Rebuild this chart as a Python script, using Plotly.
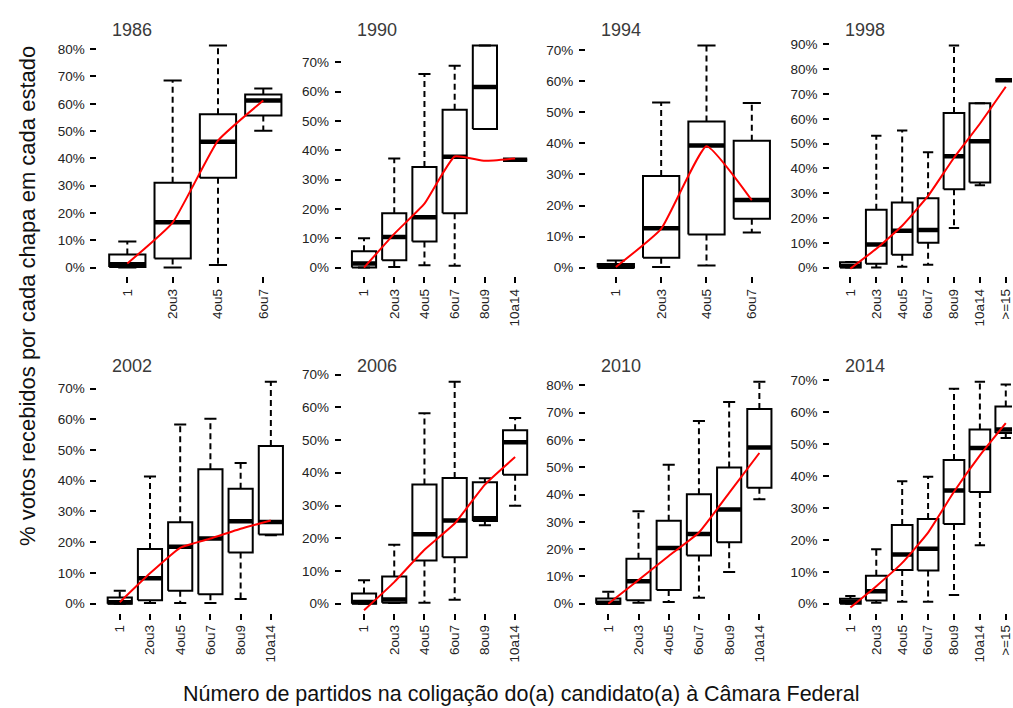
import plotly.graph_objects as go

FIG_W, FIG_H = 1013, 708

YEARS = ["1986", "1990", "1994", "1998", "2002", "2006", "2010", "2014"]
CATS_4 = ["1", "2ou3", "4ou5", "6ou7"]
CATS_6 = ["1", "2ou3", "4ou5", "6ou7", "8ou9", "10a14"]
CATS_7 = ["1", "2ou3", "4ou5", "6ou7", "8ou9", "10a14", ">=15"]

# Box statistics per year (% of votes): lower whisker, Q1, median, Q3, upper whisker,
# plus the smoothed trend (red line) evaluated at each category.
low_1986 = [0.0, 0.0, 1.0, 50.1]
q1_1986 = [0.2, 3.3, 32.9, 55.7]
med_1986 = [1.2, 16.6, 46.1, 61.2]
q3_1986 = [4.8, 31.1, 56.2, 63.4]
high_1986 = [9.6, 68.5, 81.3, 65.6]
trend_1986 = [1.5, 16.5, 46.5, 61.2]

low_1990 = [0.0, 0.2, 0.8, 0.6, 47.3, 36.8]
q1_1990 = [0.0, 2.5, 8.9, 18.5, 47.3, 36.8]
med_1990 = [1.4, 10.4, 17.2, 37.8, 61.6, 36.8]
q3_1990 = [5.6, 18.5, 34.3, 53.8, 75.7, 36.8]
high_1990 = [10.0, 37.2, 66.0, 68.8, 75.7, 36.8]
trend_1990 = [0.0, 11.5, 21.8, 37.9, 36.4, 37.2]

low_1994 = [0.0, 0.2, 0.7, 11.3]
q1_1994 = [0.0, 3.2, 10.7, 15.7]
med_1994 = [0.3, 12.7, 39.3, 21.8]
q3_1994 = [1.2, 29.5, 47.1, 40.9]
high_1994 = [2.3, 53.2, 71.5, 53.0]
trend_1994 = [0.2, 12.5, 39.1, 21.7]

low_1998 = [0.0, 0.0, 0.3, 1.2, 16.0, 33.2, 75.5]
q1_1998 = [0.0, 1.6, 5.2, 10.0, 31.6, 34.3, 75.5]
med_1998 = [0.6, 9.3, 14.9, 15.2, 44.9, 50.9, 75.5]
q3_1998 = [2.2, 23.3, 26.3, 28.0, 62.3, 66.3, 75.5]
high_1998 = [2.3, 53.2, 55.3, 46.5, 89.5, 66.3, 75.5]
trend_1998 = [-0.4, 7.6, 16.9, 28.9, 44.3, 58.0, 72.9]

low_2002 = [0.0, 0.2, 0.2, 0.2, 1.5, 22.3]
q1_2002 = [0.0, 1.1, 4.2, 3.1, 16.7, 22.5]
med_2002 = [0.5, 8.3, 18.5, 21.2, 26.8, 26.6]
q3_2002 = [2.0, 17.8, 26.5, 43.7, 37.4, 51.3]
high_2002 = [4.2, 41.4, 58.3, 60.2, 45.8, 72.2]
trend_2002 = [0.5, 9.9, 18.2, 21.2, 24.4, 27.1]

low_2006 = [0.0, 0.2, 0.3, 1.2, 24.0, 29.9]
q1_2006 = [0.0, 0.3, 13.2, 14.2, 25.3, 39.4]
med_2006 = [0.5, 1.3, 21.2, 25.4, 26.1, 49.3]
q3_2006 = [3.1, 8.3, 36.4, 38.4, 37.1, 53.0]
high_2006 = [7.2, 18.0, 58.2, 67.8, 38.3, 56.7]
trend_2006 = [-2.0, 6.6, 16.5, 24.5, 36.4, 44.8]

low_2010 = [0.0, 0.4, 0.6, 2.2, 11.6, 38.3]
q1_2010 = [0.0, 1.3, 5.0, 17.7, 22.5, 42.5]
med_2010 = [0.4, 8.2, 20.4, 25.5, 34.5, 57.2]
q3_2010 = [1.9, 16.5, 30.4, 40.1, 49.9, 71.3]
high_2010 = [4.4, 33.9, 50.9, 66.9, 73.9, 81.3]
trend_2010 = [0.0, 8.7, 17.5, 26.1, 40.6, 55.2]

low_2014 = [0.0, 0.3, 0.6, 0.6, 2.7, 18.3, 52.0]
q1_2014 = [0.0, 1.0, 10.6, 10.4, 25.0, 35.0, 53.5]
med_2014 = [0.6, 3.9, 15.4, 17.2, 35.5, 48.8, 54.6]
q3_2014 = [1.6, 8.8, 24.7, 26.6, 45.1, 54.6, 61.8]
high_2014 = [2.4, 17.1, 38.4, 39.8, 67.4, 69.6, 68.7]
trend_2014 = [-1.2, 5.5, 12.8, 22.3, 35.1, 46.5, 56.6]

PANELS = [
    ("1986", CATS_4, low_1986, q1_1986, med_1986, q3_1986, high_1986, trend_1986),
    ("1990", CATS_6, low_1990, q1_1990, med_1990, q3_1990, high_1990, trend_1990),
    ("1994", CATS_4, low_1994, q1_1994, med_1994, q3_1994, high_1994, trend_1994),
    ("1998", CATS_7, low_1998, q1_1998, med_1998, q3_1998, high_1998, trend_1998),
    ("2002", CATS_6, low_2002, q1_2002, med_2002, q3_2002, high_2002, trend_2002),
    ("2006", CATS_6, low_2006, q1_2006, med_2006, q3_2006, high_2006, trend_2006),
    ("2010", CATS_6, low_2010, q1_2010, med_2010, q3_2010, high_2010, trend_2010),
    ("2014", CATS_7, low_2014, q1_2014, med_2014, q3_2014, high_2014, trend_2014),
]

# Panel placement in pixels
COL_LEFT = [97.5, 342.0, 586.5, 831.0]
PANEL_W = 196.0
ROW_TOP = [31.0, 370.0]
PANEL_H = 241.8

FONT = "Liberation Sans, Arial, Helvetica, sans-serif"
BOX_HALF = 0.4
CAP_HALF = 0.2

fig = go.Figure()
layout = dict(
    width=FIG_W, height=FIG_H,
    margin=dict(l=0, r=0, t=0, b=0),
    paper_bgcolor="white", plot_bgcolor="white",
    showlegend=False,
    font=dict(family=FONT, color="#222222", size=13),
    annotations=[],
)

for i, (year, cats, lo, q1, med, q3, hi, trend) in enumerate(PANELS):
    row, col = divmod(i, 4)
    n = len(cats)
    sfx = "" if i == 0 else str(i + 1)
    xa, ya = "x" + sfx, "y" + sfx
    pos = list(range(1, n + 1))

    # R-style ranges: [0.5, n + 0.5] and data extent, each padded by 4 %
    x0 = 0.5 - 0.04 * n
    x1 = n + 0.5 + 0.04 * n
    left = COL_LEFT[col]
    right = left + PANEL_W
    if right > FIG_W:
        x1 = x0 + (FIG_W - left) / PANEL_W * (x1 - x0)
        right = FIG_W
    dmin, dmax = min(lo), max(hi)
    pad = 0.04 * (dmax - dmin)
    top = ROW_TOP[row]
    bottom = top + PANEL_H

    # box outlines
    bx, by = [], []
    for p, a, b in zip(pos, q1, q3):
        bx += [p - BOX_HALF, p + BOX_HALF, p + BOX_HALF, p - BOX_HALF, p - BOX_HALF, None]
        by += [a, a, b, b, a, None]
    # whiskers (dashed) and staples
    wx, wy, cx, cy = [], [], [], []
    for p, l, a, b, h in zip(pos, lo, q1, q3, hi):
        wx += [p, p, None, p, p, None]
        wy += [a, l, None, b, h, None]
        cx += [p - CAP_HALF, p + CAP_HALF, None, p - CAP_HALF, p + CAP_HALF, None]
        cy += [l, l, None, h, h, None]
    mx, my = [], []
    for p, m in zip(pos, med):
        mx += [p - BOX_HALF, p + BOX_HALF, None]
        my += [m, m, None]

    common = dict(xaxis=xa, yaxis=ya, mode="lines", hoverinfo="skip")
    fig.add_trace(go.Scatter(x=wx, y=wy, line=dict(color="black", width=2, dash="6px,4px"), **common))
    fig.add_trace(go.Scatter(x=cx, y=cy, line=dict(color="black", width=2), **common))
    fig.add_trace(go.Scatter(x=bx, y=by, line=dict(color="black", width=2), **common))
    fig.add_trace(go.Scatter(x=mx, y=my, line=dict(color="black", width=4.5), **common))
    fig.add_trace(go.Scatter(x=pos, y=trend, line=dict(color="#ff0000", width=2, shape="spline", smoothing=0.4), **common))

    layout["xaxis" + sfx] = dict(
        domain=[left / FIG_W, right / FIG_W], anchor=ya, range=[x0, x1],
        tickmode="array", tickvals=pos, ticktext=cats, tickangle=-90,
        ticks="outside", ticklen=6, tickwidth=2, tickcolor="black",
        ticklabeloverflow="allow",
        showline=False, showgrid=False, zeroline=False,
        tickfont=dict(size=13.5, family=FONT, color="#222222"),
    )
    layout["yaxis" + sfx] = dict(
        domain=[1 - bottom / FIG_H, 1 - top / FIG_H], anchor=xa,
        range=[dmin - pad, dmax + pad],
        tickmode="linear", tick0=0, dtick=10, ticksuffix="%",
        ticks="outside", ticklen=6, tickwidth=2, tickcolor="black",
        ticklabelstandoff=3, ticklabeloverflow="allow",
        showline=False, showgrid=False, zeroline=False,
        tickfont=dict(size=13.5, family=FONT, color="#222222"),
    )
    layout["annotations"].append(dict(
        text=year, xref="paper", yref="paper",
        x=(left + 13) / FIG_W, y=1 - (top - 6.5) / FIG_H,
        xanchor="left", yanchor="middle", showarrow=False,
        font=dict(size=18, family=FONT, color="#3a3a3a"),
    ))

layout["annotations"].append(dict(
    text="% votos recebidos por cada chapa em cada estado",
    xref="paper", yref="paper", x=27 / FIG_W, y=1 - 292.5 / FIG_H,
    xanchor="center", yanchor="middle", textangle=-90, showarrow=False,
    font=dict(size=22, family=FONT, color="#111111"),
))
layout["annotations"].append(dict(
    text="Número de partidos na coligação do(a) candidato(a) à Câmara Federal",
    xref="paper", yref="paper", x=522 / FIG_W, y=1 - 694 / FIG_H,
    xanchor="center", yanchor="middle", showarrow=False,
    font=dict(size=21.5, family=FONT, color="#111111"),
))

fig.update_layout(**layout)
fig.write_html("out.html")
